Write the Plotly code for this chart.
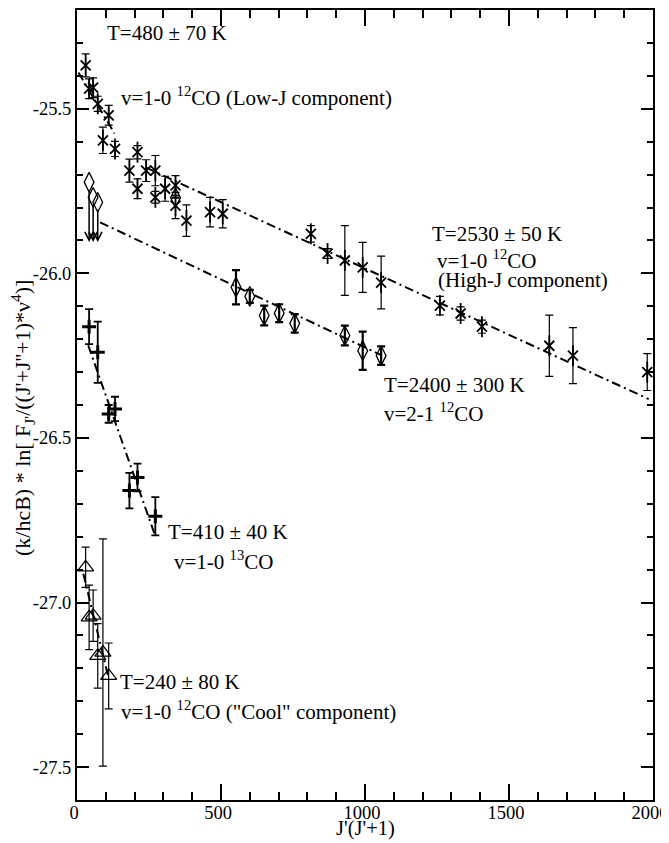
import plotly.graph_objects as go

# ---------------- data ----------------
# v=1-0 12CO, low-J component (asterisks)
lowj_x = [30, 42, 56, 72, 90, 110, 132, 182, 210, 210, 240, 272, 272, 306, 342, 342, 380, 462, 506]
lowj_y = [-25.368, -25.439, -25.436, -25.485, -25.596, -25.520, -25.622, -25.688, -25.632, -25.743,
          -25.688, -25.688, -25.769, -25.743, -25.733, -25.794, -25.840, -25.814, -25.819]
lowj_err = [0.035, 0.03, 0.03, 0.023, 0.04, 0.03, 0.023, 0.035, 0.02, 0.03,
            0.033, 0.046, 0.018, 0.038, 0.03, 0.04, 0.048, 0.045, 0.043]

# v=1-0 12CO, high-J component (asterisks)
highj_x = [812, 870, 930, 992, 1056, 1260, 1332, 1406, 1640, 1722, 1980]
highj_y = [-25.880, -25.940, -25.961, -25.982, -26.028, -26.098, -26.122, -26.162, -26.220, -26.250, -26.300]
highj_err = [0.025, 0.015, 0.106, 0.076, 0.08, 0.028, 0.02, 0.02, 0.093, 0.085, 0.056]

# v=2-1 12CO (diamonds)
v21_x = [342, 552, 600, 650, 702, 756, 930, 992, 1056]
v21_y = [-25.770, -26.042, -26.070, -26.128, -26.121, -26.152, -26.189, -26.235, -26.250]
v21_err = [0.0, 0.052, 0.02, 0.03, 0.027, 0.028, 0.03, 0.058, 0.028]
# v=2-1 upper limits (diamonds with downward arrows)
v21_lim_x = [42, 56, 72]
v21_lim_y = [-25.723, -25.769, -25.784]
v21_lim_tip = [-25.905, -25.905, -25.905]

# v=1-0 13CO (plus signs)
c13_x = [42, 72, 110, 132, 182, 210, 272]
c13_y = [-26.162, -26.240, -26.427, -26.412, -26.660, -26.620, -26.738]
c13_err = [0.053, 0.093, 0.027, 0.037, 0.054, 0.042, 0.058]

# v=1-0 12CO "cool" component (triangles)
cool_x = [30, 42, 56, 72, 90, 110]
cool_y = [-26.893, -27.045, -27.040, -27.162, -27.152, -27.223]
cool_err = [0.061, 0.098, 0.078, 0.098, 0.345, 0.10]

# linear fits (end points)
fit_lowj_x = [5, 130]
fit_lowj_y = [-25.39, -25.575]
fit_highj_x = [240, 1985]
fit_highj_y = [-25.679, -26.382]
fit_v21_x = [80, 1058]
fit_v21_y = [-25.845, -26.249]
fit_c13_x = [39, 271]
fit_c13_y = [-26.219, -26.796]
fit_cool_x = [22, 109]
fit_cool_y = [-26.913, -27.227]

x_ticks = [0, 500, 1000, 1500, 2000]
x_ticklabels = ["0", "500", "1000", "1500", "2000"]
y_ticks = [-27.5, -27.0, -26.5, -26.0, -25.5]
y_ticklabels = ["-27.5", "-27.0", "-26.5", "-26.0", "-25.5"]

labels = [
    (97, -25.271, "T=480 ± 70 K"),
    (146, -25.463, "v=1-0 <sup>12</sup>CO (Low-J component)"),
    (1226, -25.879, "T=2530 ± 50 K"),
    (1243, -25.958, "v=1-0 <sup>12</sup>CO"),
    (1247, -26.021, "(High-J component)"),
    (1059, -26.340, "T=2400 ± 300 K"),
    (1059, -26.422, "v=2-1 <sup>12</sup>CO"),
    (309, -26.787, "T=410 ± 40 K"),
    (330, -26.872, "v=1-0 <sup>13</sup>CO"),
    (142, -27.240, "T=240 ± 80 K"),
    (146, -27.327, "v=1-0 <sup>12</sup>CO (\"Cool\" component)"),
]

FONT = "Liberation Serif, Times New Roman, serif"
BLACK = "black"

fig = go.Figure()

def fit_line(xs, ys):
    fig.add_trace(go.Scatter(x=xs, y=ys, mode="lines",
                             line=dict(color=BLACK, width=2, dash="9px,4px,2px,4px"),
                             hoverinfo="skip", showlegend=False))

for fx, fy in [(fit_lowj_x, fit_lowj_y), (fit_highj_x, fit_highj_y), (fit_v21_x, fit_v21_y),
               (fit_c13_x, fit_c13_y), (fit_cool_x, fit_cool_y)]:
    fit_line(fx, fy)

def err(arr, thick=1.2, width=4):
    return dict(type="data", array=arr, visible=True, color=BLACK, thickness=thick, width=width)

# asterisks: X + vertical line
for xs, ys, es in [(lowj_x, lowj_y, lowj_err), (highj_x, highj_y, highj_err)]:
    fig.add_trace(go.Scatter(x=xs, y=ys, mode="markers", error_y=err(es),
                             marker=dict(symbol="x-thin-open", size=10, color=BLACK,
                                         line=dict(color=BLACK, width=1.8)),
                             showlegend=False))
    fig.add_trace(go.Scatter(x=xs, y=ys, mode="markers",
                             marker=dict(symbol="line-ns-open", size=15, color=BLACK,
                                         line=dict(color=BLACK, width=1.8)),
                             showlegend=False))

# v=2-1 diamonds
fig.add_trace(go.Scatter(x=v21_x, y=v21_y, mode="markers", error_y=err(v21_err, thick=2.2),
                         marker=dict(symbol="diamond-tall-open", size=14, color=BLACK,
                                     line=dict(color=BLACK, width=1.3)),
                         showlegend=False))
fig.add_trace(go.Scatter(x=v21_lim_x, y=v21_lim_y, mode="markers",
                         marker=dict(symbol="diamond-tall-open", size=14, color=BLACK,
                                     line=dict(color=BLACK, width=1.3)),
                         showlegend=False))
for lx, ly, lt in zip(v21_lim_x, v21_lim_y, v21_lim_tip):
    fig.add_annotation(x=lx, y=lt, ax=lx, ay=ly, axref="x", ayref="y", xref="x", yref="y",
                       text="", showarrow=True, arrowhead=5, arrowsize=1.1, arrowwidth=1.5,
                       arrowcolor=BLACK, standoff=0, startstandoff=6)

# 13CO plus signs
fig.add_trace(go.Scatter(x=c13_x, y=c13_y, mode="markers", error_y=err(c13_err, thick=1.8),
                         marker=dict(symbol="cross-thin-open", size=10, color=BLACK,
                                     line=dict(color=BLACK, width=3)),
                         showlegend=False))

# cool component triangles
fig.add_trace(go.Scatter(x=cool_x, y=cool_y, mode="markers", error_y=err(cool_err, thick=1.2),
                         marker=dict(symbol="triangle-up-open", size=14, color=BLACK,
                                     line=dict(color=BLACK, width=1.2)),
                         showlegend=False))

for lx, ly, txt in labels:
    fig.add_annotation(x=lx, y=ly, xref="x", yref="y", text=txt, showarrow=False,
                       xanchor="left", yanchor="middle",
                       font=dict(family=FONT, size=21, color=BLACK))

# axis titles as text
fig.add_annotation(x=-0.0955, y=0.4835, xref="paper", yref="paper", textangle=-90,
                   text="(k/hcB) * ln[ F<sub>J'</sub>/((J'+J''+1)*ν<sup>4</sup>)]",
                   showarrow=False, xanchor="center", yanchor="middle",
                   font=dict(family=FONT, size=22, color=BLACK))
fig.add_annotation(x=0.5, y=-0.036, xref="paper", yref="paper",
                   text="J'(J'+1)", showarrow=False, xanchor="center", yanchor="middle",
                   font=dict(family=FONT, size=20.5, color=BLACK))

axis_common = dict(showline=True, linecolor=BLACK, linewidth=2, mirror="ticks",
                   ticks="inside", tickcolor=BLACK, tickwidth=1.5, showgrid=False,
                   zeroline=False, automargin=False, ticklabeloverflow="allow",
                   tickfont=dict(family=FONT, size=18.5, color=BLACK))

fig.update_layout(
    template="none",
    width=669, height=835,
    margin=dict(l=69, r=24, t=2, b=43, autoexpand=False),
    paper_bgcolor="white", plot_bgcolor="white",
    font=dict(family=FONT, color=BLACK),
    showlegend=False,
    xaxis=dict(range=[0, 2000], tickmode="array", tickvals=x_ticks, ticktext=x_ticklabels,
               ticklen=16, ticklabelstandoff=-5, ticklabelshift=-3,
               minor=dict(tickmode="linear", tick0=0, dtick=100, ticklen=8, ticks="inside",
                          tickcolor=BLACK, tickwidth=1.5, showgrid=False),
               **axis_common),
    yaxis=dict(range=[-27.6, -25.2], tickmode="array", tickvals=y_ticks, ticktext=y_ticklabels,
               ticklen=12,
               minor=dict(tickmode="linear", tick0=-25.5, dtick=0.1, ticklen=6, ticks="inside",
                          tickcolor=BLACK, tickwidth=1.5, showgrid=False),
               **axis_common),
)

fig.write_html("out.html")
